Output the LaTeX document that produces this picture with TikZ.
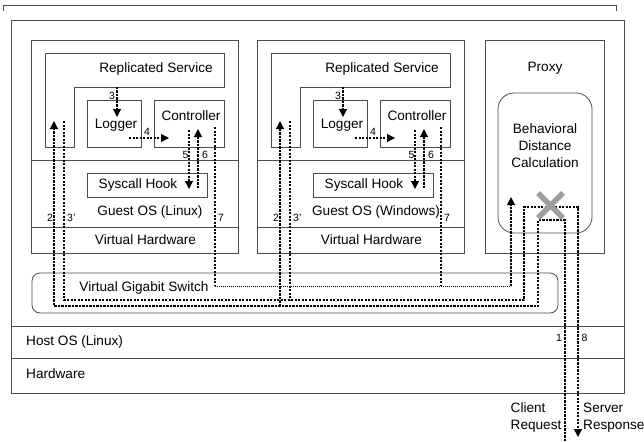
\documentclass[tikz,border=0pt]{standalone}
\usepackage{fontspec}
\setmainfont{Liberation Sans}
\usetikzlibrary{arrows.meta}
\begin{document}
\begin{tikzpicture}[x=1pt,y=-1pt,
  box/.style={draw=black!70, line width=0.8pt, inner sep=0pt, outer sep=0pt, anchor=north west},
  lbl/.style={font=\fontsize{13.6}{17}\selectfont, inner sep=0pt},
  num/.style={font=\fontsize{10.5}{12}\selectfont, inner sep=0pt},
  flow/.style={line width=1.1pt, dash pattern=on 2.2pt off 1.3pt},
  fine/.style={line width=0.9pt, dash pattern=on 1.2pt off 0.8pt},
  tip/.style={-{Triangle[length=8pt,width=8pt]}},
  cross/.style={line width=5.5pt, draw=black!38},
]
\useasboundingbox (0,0) rectangle (644,441);

% top bracket
\draw[draw=black!70, line width=0.8pt] (3,11) -- (3,5) -- (616,5) -- (616,11);

% main frame and rows
\node[box, minimum width=613pt, minimum height=373pt] (main) at (11,20) {};
\node[box, minimum width=613pt, minimum height=32.5pt] (host) at (11,326) {};
\node[box, minimum width=613pt, minimum height=34.5pt] (hw) at (11,358.5) {};
\node[lbl, anchor=west] (hostt) at (26,342) {Host OS (Linux)};
\node[lbl, anchor=west] (hwt) at (26,374) {Hardware};

% virtual machines
\foreach \d/\os/\n in {0/Linux/1, 226/Windows/2}{
  \begin{scope}[xshift=\d pt]
    \node[box, minimum width=207pt, minimum height=213pt] (vm\n) at (31,40) {};
    \node[box, minimum width=207pt, minimum height=66.5pt] (gos\n) at (31,160.5) {};
    \node[box, minimum width=207pt, minimum height=26pt] (vh\n) at (31,227) {};
    \draw[draw=black!70, line width=0.8pt] (45,53) -- (224,53) -- (224,87) -- (74,87) -- (74,147) -- (45,147) -- cycle;
    \node[box, minimum width=54pt, minimum height=47pt] (log\n) at (87,100) {};
    \node[box, minimum width=70pt, minimum height=47pt] (ctl\n) at (154,100) {};
    \node[box, minimum width=120pt, minimum height=24pt] (sys\n) at (87,173) {};
    \node[lbl] (rst\n) at (156,69) {Replicated Service};
    \node[lbl] (logt\n) at (116,125) {Logger};
    \node[lbl] (ctlt\n) at (191,116) {Controller};
    \node[lbl] (syst\n) at (138,185) {Syscall Hook};
    \node[lbl] (gost\n) at (150,212) {Guest OS (\os)};
    \node[lbl] (vht\n) at (145.5,240) {Virtual Hardware};
    % internal flows
    \coordinate (s3\n) at (117,87);   \coordinate (e3\n) at (117,117);
    \coordinate (s4\n) at (129,138);  \coordinate (e4\n) at (169,138);
    \coordinate (s5\n) at (189,130);  \coordinate (e5\n) at (189,189);
    \coordinate (s6\n) at (198,188);  \coordinate (e6\n) at (198,129);
    \draw[flow,tip] (s3\n) -- (e3\n);
    \draw[flow,tip] (s4\n) -- (e4\n);
    \draw[flow,tip] (s5\n) -- (e5\n);
    \draw[flow,tip] (s6\n) -- (e6\n);
    \node[num] (l3\n) at (112,96) {3};
    \node[num] (l4\n) at (147,132) {4};
    \node[num] (l5\n) at (185.5,155) {5};
    \node[num] (l6\n) at (205,155) {6};
    \node[num] (l2\n) at (50,218) {2};
    \node[num, anchor=west] (l3p\n) at (67,218) {3'};
    \node[num] (l7\n) at (221,218) {7};
    % connector ends inside the VM
    \coordinate (t2\n) at (54,121);
    \coordinate (b2\n) at (54,306);
    \coordinate (t3p\n) at (64,121);
    \coordinate (b3p\n) at (64,300);
    \coordinate (t7\n) at (215,127);
    \coordinate (b7\n) at (215,286);
  \end{scope}
}

% proxy
\node[box, minimum width=119pt, minimum height=213pt] (proxy) at (485,40) {};
\node[lbl] (proxyt) at (545,68) {Proxy};
\node[box, rounded corners=16pt, minimum width=94pt, minimum height=140pt] (bdc) at (498,93) {};
\node[lbl, align=center] (bdct) at (545,146) {Behavioral\\Distance\\Calculation};

% switch
\node[box, rounded corners=8pt, minimum width=526pt, minimum height=40pt] (sw) at (32,273) {};
\node[lbl] (swt) at (144,288) {Virtual Gigabit Switch};

% external labels
\node[lbl, align=left, anchor=west] (creq) at (510.5,417.5) {Client\\Request};
\node[lbl, align=left, anchor=west] (sresp) at (583,417.5) {Server\\Response};
\node[num] (l1) at (559,338) {1};
\node[num] (l8) at (584.5,338) {8};

% proxy coordinates
\coordinate (cin) at (565,441);
\coordinate (sout) at (578,437);
\coordinate (p7) at (511,197);

% flow 7 (to proxy)
\draw[flow] (t71) -- (b71);
\draw[flow] (t72) -- (b72);
\draw[fine] (b71) -- (b72) -- (511,286);
\draw[flow,tip] (511,286) -- (p7);

% client request: 1 -> 2
\draw[flow,tip] (cin) -- (565,220) -- (538,220) -- (538,306) -- (b21) -- (t21);
\draw[flow,tip] (b22) -- (t22);

% server response: 3' -> 8
\draw[flow,tip] (t3p1) -- (b3p1) -- (524,300) -- (524,207) -- (578,207) -- (sout);
\draw[flow] (t3p2) -- (b3p2);

% blocked mark
\draw[cross] (538,193) -- (563,218) (538,218) -- (563,193);
\end{tikzpicture}
\end{document}
